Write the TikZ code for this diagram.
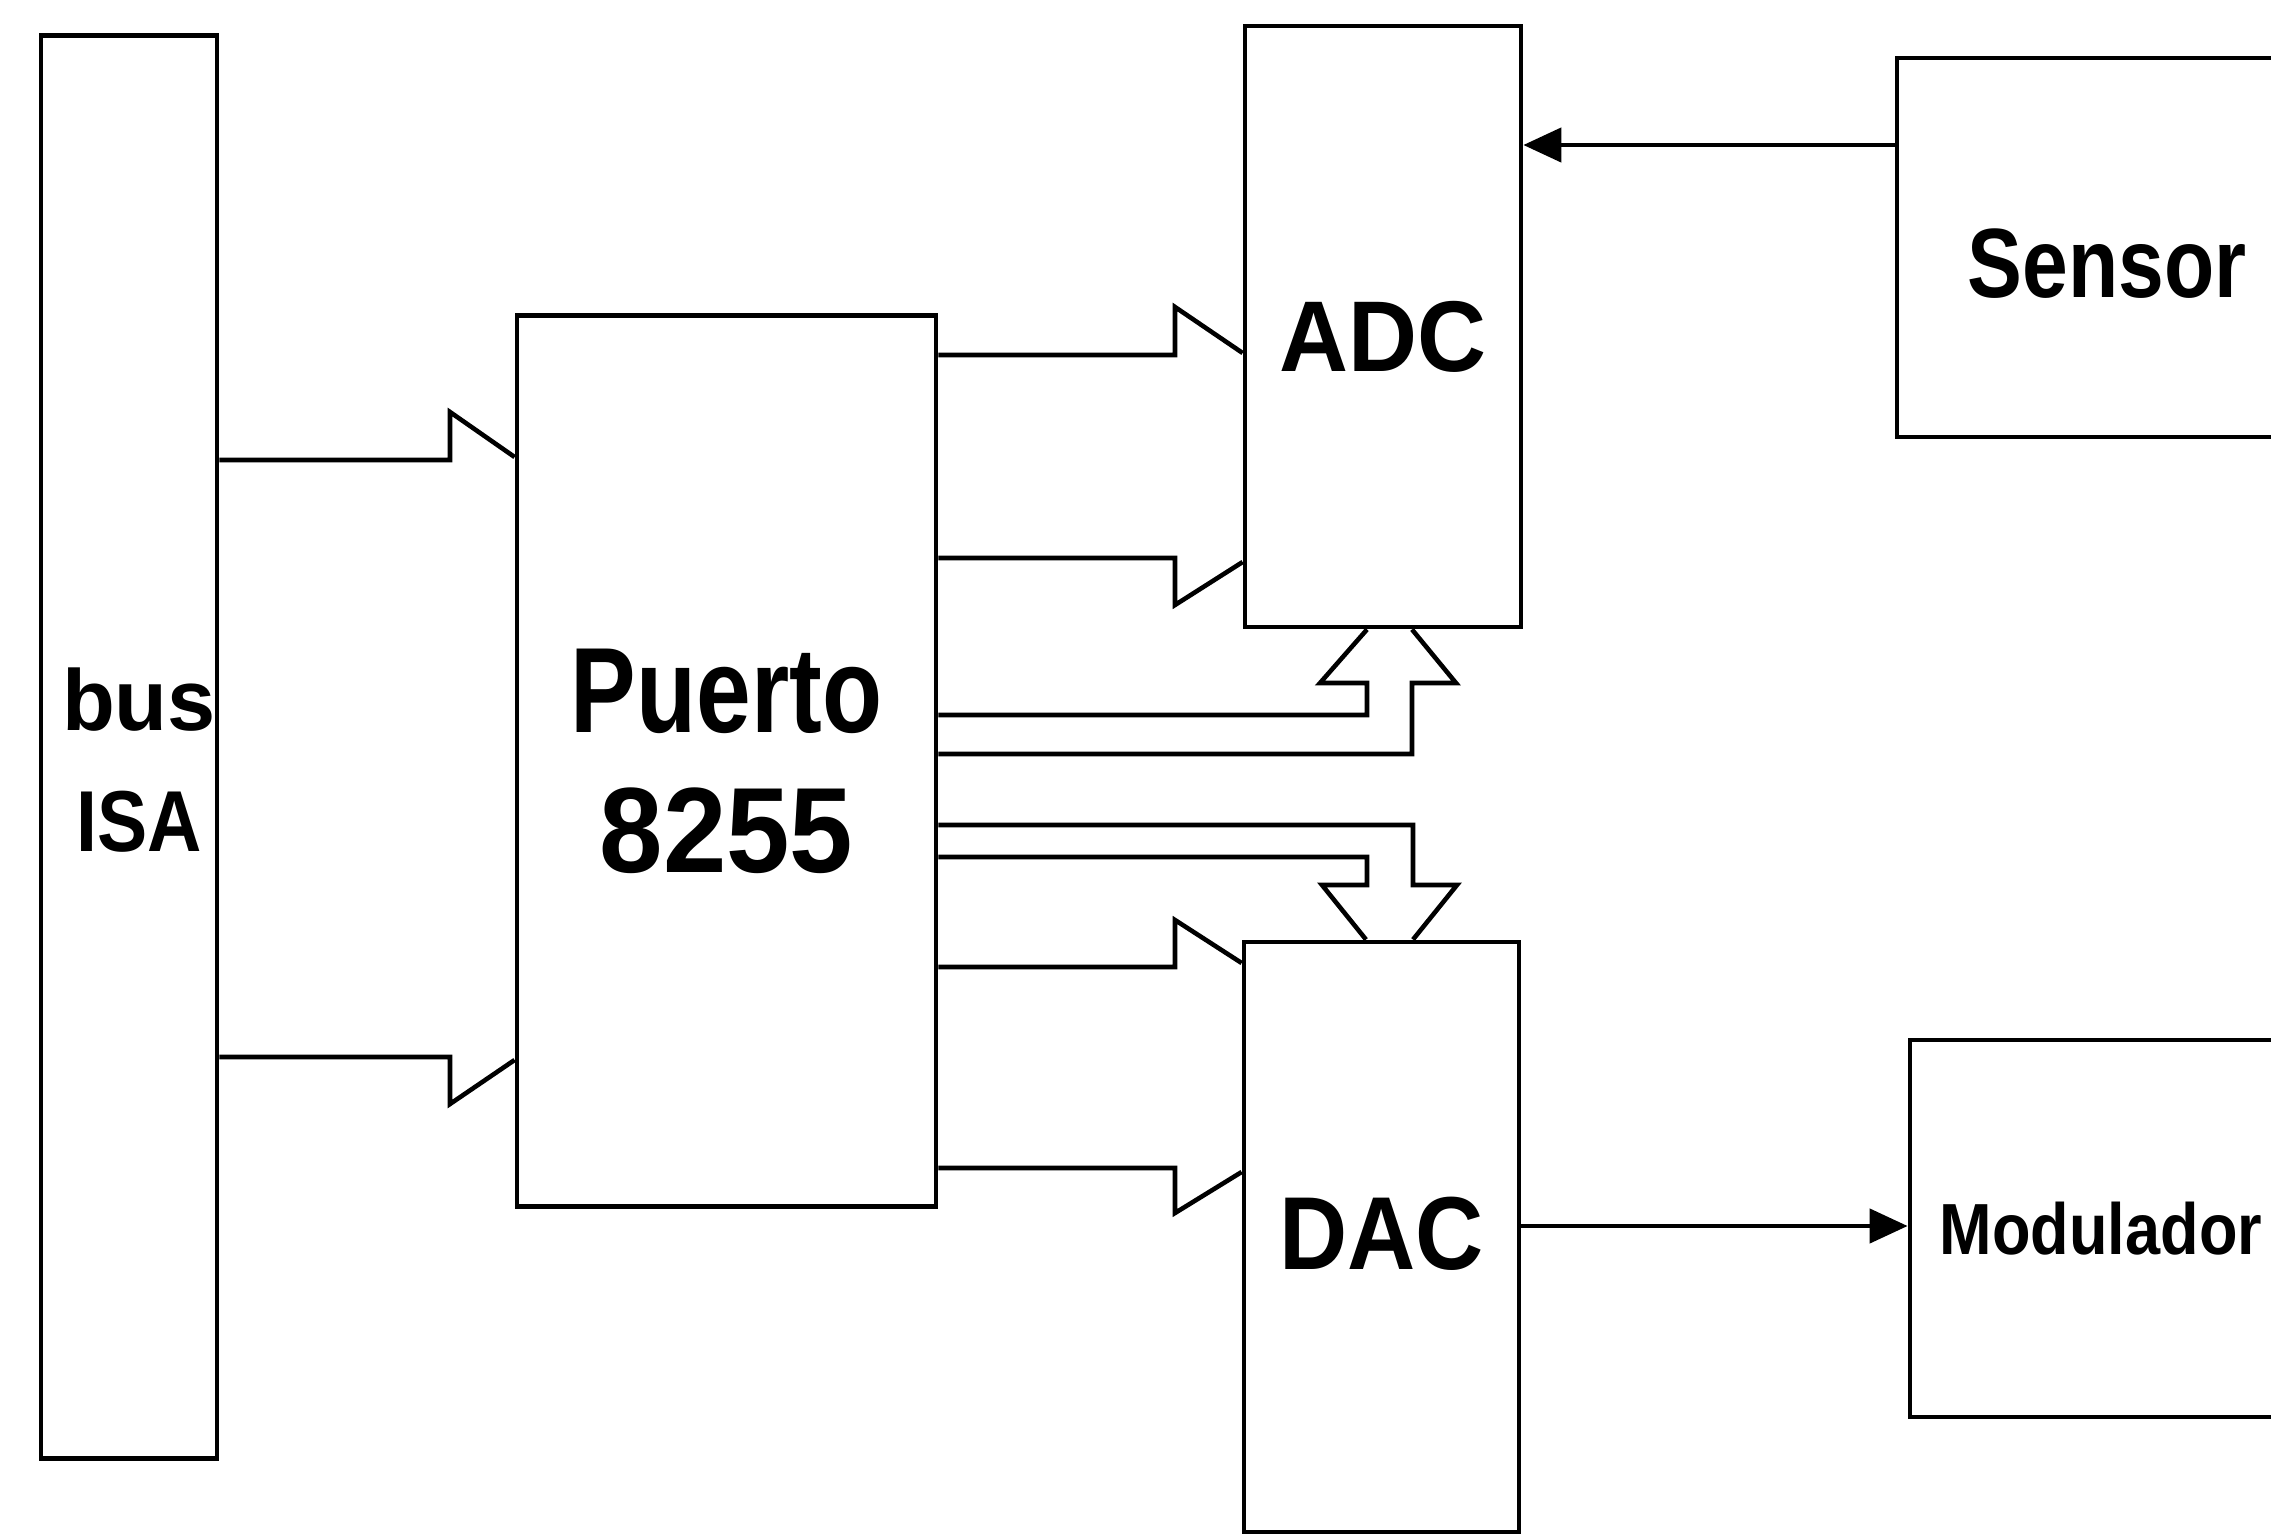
\documentclass[tikz,border=0pt]{standalone}
\usepackage{fontspec}
\usepackage{graphicx}
\setmainfont{Liberation Sans}
\usetikzlibrary{arrows.meta,calc}
\tikzset{
  box/.style={draw, line width=1.3pt, inner sep=0pt},
  txt/.style={inner sep=0pt, align=center},
  fat/.style={draw, line width=1.3pt, line join=miter},
  sig/.style={draw, line width=1.3pt, -{Triangle[length=0.38cm,width=0.34cm]}},
}
\begin{document}
\begin{tikzpicture}[x=0.01cm,y=-0.01cm]
\clip (0,0) rectangle (2271,1536);
\fill[white] (0,0) rectangle (2271,1536);
% boxes
\node[box, minimum width=1.76cm, minimum height=14.22cm] (bus) at (129,747) {};
\node[box, minimum width=4.19cm, minimum height=8.90cm] (pto) at (726.5,761) {};
\node[box, minimum width=2.76cm, minimum height=6.01cm] (adc) at (1383,326.5) {};
\node[box, minimum width=2.75cm, minimum height=5.90cm] (dac) at (1381.5,1237) {};
\node[box, minimum width=4.20cm, minimum height=3.79cm] (sen) at (2107,247.5) {};
\node[box, minimum width=3.82cm, minimum height=3.77cm] (mod) at (2101,1228.5) {};
% labels
\node[txt, font=\bfseries\fontsize{24.6}{34.4}\selectfont] (bust) at ([xshift=0.1cm,yshift=-0.13cm]bus.center)
      {bus\\\scalebox{0.87}[1]{ISA}};
\node[txt, font=\bfseries\fontsize{34.5}{39.8}\selectfont] (ptot) at (pto.center)
      {\scalebox{0.81}[1]{Puerto}\\\scalebox{0.94}[1]{8255}};
\node[txt, font=\bfseries\fontsize{28.6}{34}\selectfont] (adct) at ([yshift=-0.1cm]adc.center)
      {\scalebox{0.95}[1]{ADC}};
\node[txt, font=\bfseries\fontsize{29.5}{34}\selectfont] (dact) at ([yshift=0.03cm]dac.center)
      {\scalebox{0.91}[1]{DAC}};
\node[txt, font=\bfseries\fontsize{28}{34}\selectfont] (sent) at ([yshift=-0.16cm]sen.center)
      {\scalebox{0.835}[1]{Sensor}};
\node[txt, font=\bfseries\fontsize{20.6}{25}\selectfont] (modt) at (mod.center)
      {\scalebox{0.87}[1]{Modulador}};
% bus -> puerto (wide arrow)
\path[fat] (bus.east |- 0,460) -- (450,460) -- (450,412) -- (pto.west |- 0,457);
\path[fat] (bus.east |- 0,1057) -- (450,1057) -- (450,1104) -- (pto.west |- 0,1060);
% puerto -> ADC
\path[fat] (pto.east |- 0,355) -- (1175,355) -- (1175,307) -- (adc.west |- 0,353);
\path[fat] (pto.east |- 0,558) -- (1175,558) -- (1175,605) -- (adc.west |- 0,562);
% puerto -> DAC
\path[fat] (pto.east |- 0,967) -- (1175,967) -- (1175,920) -- (dac.west |- 0,963);
\path[fat] (pto.east |- 0,1168) -- (1175,1168) -- (1175,1213) -- (dac.west |- 0,1172);
% puerto -> ADC bottom (up arrow)
\path[fat] (pto.east |- 0,715) -- (1367,715) -- (1367,683) -- (1320,683) -- (1367,0 |- adc.south);
\path[fat] (pto.east |- 0,754) -- (1412,754) -- (1412,683) -- (1456,683) -- (1412,0 |- adc.south);
% puerto -> DAC top (down arrow)
\path[fat] (pto.east |- 0,825) -- (1413,825) -- (1413,885) -- (1457,885) -- (1413,0 |- dac.north);
\path[fat] (pto.east |- 0,857) -- (1367,857) -- (1367,885) -- (1322,885) -- (1366,0 |- dac.north);
% signals
\path[sig] (sen.west |- 0,145) -- (adc.east |- 0,145);
\path[sig] (dac.east |- 0,1226) -- (mod.west |- 0,1226);
\end{tikzpicture}
\end{document}
